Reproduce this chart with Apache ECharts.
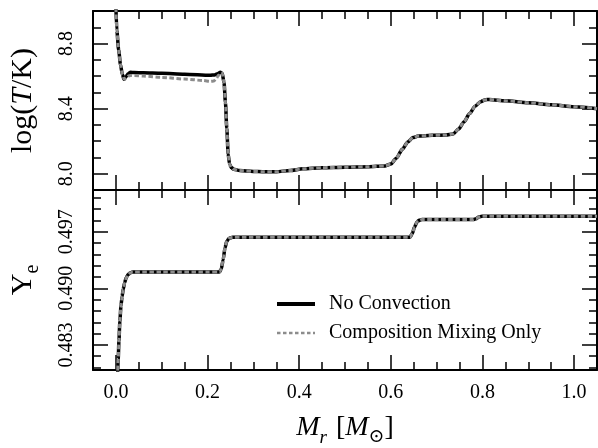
<!DOCTYPE html>
<html><head><meta charset="utf-8">
<script src="https://cdn.jsdelivr.net/npm/echarts@6/dist/echarts.min.js"></script>
<style>html,body{margin:0;padding:0;background:#fff}#c{width:598px;height:448px}</style>
</head><body><div id="c"></div>
<script>
// ---- data ----
const massT = [0.000,0.002,0.006,0.010,0.014,0.018,0.022,0.027,0.032,0.040,0.060,0.100,0.150,0.206,0.215,0.222,0.228,0.232,0.236,0.239,0.242,0.245,0.248,0.252,0.257,0.270,0.300,0.320,0.350,0.380,0.408,0.450,0.500,0.550,0.588,0.600,0.612,0.625,0.637,0.648,0.660,0.690,0.720,0.736,0.748,0.760,0.772,0.784,0.796,0.807,0.815,0.850,0.900,0.950,1.000,1.050];
const logTNoConv = [9.02,8.88,8.76,8.67,8.61,8.580,8.596,8.615,8.623,8.622,8.620,8.617,8.612,8.605,8.607,8.615,8.623,8.618,8.560,8.440,8.280,8.120,8.060,8.038,8.028,8.020,8.014,8.012,8.012,8.020,8.030,8.037,8.040,8.043,8.048,8.060,8.095,8.150,8.195,8.222,8.232,8.236,8.238,8.244,8.275,8.320,8.370,8.415,8.443,8.455,8.456,8.448,8.436,8.424,8.412,8.400];
const massTMix = [0.000,0.002,0.006,0.010,0.014,0.018,0.022,0.027,0.032,0.040,0.060,0.100,0.150,0.190,0.206,0.214,0.219,0.224,0.228,0.232,0.236,0.239,0.242,0.245,0.248,0.252,0.257,0.270,0.300,0.320,0.350,0.380,0.408,0.450,0.500,0.550,0.588,0.600,0.612,0.625,0.637,0.648,0.660,0.690,0.720,0.736,0.748,0.760,0.772,0.784,0.796,0.807,0.815,0.850,0.900,0.950,1.000,1.050];
const logTMix = [9.02,8.88,8.76,8.67,8.61,8.580,8.590,8.600,8.604,8.603,8.600,8.592,8.582,8.573,8.568,8.570,8.585,8.605,8.620,8.618,8.560,8.440,8.280,8.120,8.060,8.038,8.028,8.020,8.014,8.012,8.012,8.020,8.030,8.037,8.040,8.043,8.048,8.060,8.095,8.150,8.195,8.222,8.232,8.236,8.238,8.244,8.275,8.320,8.370,8.415,8.443,8.455,8.456,8.448,8.436,8.424,8.412,8.400];
const massYe = [0.0035,0.0050,0.0066,0.0086,0.0110,0.0135,0.0160,0.0190,0.0225,0.0265,0.0310,0.0360,0.1000,0.2000,0.2260,0.2300,0.2340,0.2380,0.2420,0.2470,0.2550,0.4000,0.6420,0.6470,0.6520,0.6570,0.6620,0.6680,0.7000,0.7800,0.7860,0.7920,0.7990,0.8100,1.0500];
const yeNoConv = [0.4790,0.4812,0.4835,0.4859,0.4878,0.4890,0.4899,0.4907,0.4913,0.4917,0.4919,0.4920,0.4920,0.4920,0.4920,0.4924,0.4935,0.4950,0.4958,0.4962,0.4963,0.4963,0.4963,0.4968,0.4976,0.4982,0.4984,0.4985,0.4985,0.4985,0.4986,0.4988,0.4989,0.4989,0.4989];
const yeMix = [0.4790,0.4812,0.4835,0.4859,0.4878,0.4890,0.4899,0.4907,0.4913,0.4917,0.4919,0.4920,0.4920,0.4920,0.4920,0.4924,0.4935,0.4950,0.4958,0.4962,0.4963,0.4963,0.4963,0.4968,0.4976,0.4982,0.4984,0.4985,0.4985,0.4985,0.4986,0.4988,0.4989,0.4989,0.4989];

const xMajorTicks = [0.0,0.2,0.4,0.6,0.8,1.0];
const xTickLabels = ['0.0','0.2','0.4','0.6','0.8','1.0'];
const xMinorTicks = [0.05,0.1,0.15,0.25,0.3,0.35,0.45,0.5,0.55,0.65,0.7,0.75,0.85,0.9,0.95];
const tMajorTicks = [8.0,8.4,8.8];
const tTickLabels = ['8.0','8.4','8.8'];
const tMinorTicks = [8.1,8.2,8.3,8.5,8.6,8.7,8.9];
const yeMajorTicks = [0.483,0.490,0.497];
const yeTickLabels = ['0.483','0.490','0.497'];
const yeMinorTicks = [0.4802,0.4816,0.4844,0.4858,0.4872,0.4886,0.4914,0.4928,0.4942,0.4956,0.4984,0.4998,0.5012];

const X_MIN = -0.05, X_MAX = 1.05;
const T_MIN = 7.9, T_MAX = 9.0;
const YE_MIN = 0.4799, YE_MAX = 0.50215;

// ---- styling ----
const FONT = "'Liberation Serif','DejaVu Serif',serif";
const SPINE = {show:true, onZero:false, lineStyle:{color:'#000', width:2}};
const NOLINE = {show:false, onZero:false};
function lbl(vals, labels){
  return function(v){
    for (let i=0;i<vals.length;i++) if (Math.abs(vals[i]-v)<1e-9) return labels[i];
    return '';
  };
}
function xAx(grid, pos, major, withLabel){
  const a = {
    type:'value', gridIndex:grid, position:pos, min:X_MIN, max:X_MAX,
    axisLine: major ? SPINE : NOLINE,
    splitLine:{show:false},
    axisTick:{show:true, inside:true, length: major?15:8, customValues: major?xMajorTicks:xMinorTicks, lineStyle:{color:'#000', width:1.5}},
    axisLabel:{show:false}
  };
  if (withLabel){
    a.axisLabel = {show:true, customValues:xMajorTicks, formatter:lbl(xMajorTicks,xTickLabels), fontFamily:FONT, fontSize:20, color:'#000', margin:13};
    a.name = '{i|M}{si|r}{n| [}{i|M}{s|\u2299}{n|]}';
    a.nameLocation = 'middle';
    a.nameGap = 44;
    a.nameTextStyle = {fontFamily:FONT, fontSize:28, color:'#000', rich:{
      i:{fontFamily:FONT, fontSize:28, fontStyle:'italic', lineHeight:30, verticalAlign:'top'},
      n:{fontFamily:FONT, fontSize:28, lineHeight:30, verticalAlign:'top'},
      si:{fontFamily:FONT, fontSize:19, fontStyle:'italic', lineHeight:19, padding:[14,2,0,0], verticalAlign:'top'},
      s:{fontFamily:FONT, fontSize:19, lineHeight:19, padding:[14,0,0,0], verticalAlign:'top'}
    }};
  }
  return a;
}
function yAx(grid, pos, major, min, max, majVals, minVals, labels, name, rich, gap){
  const a = {
    type:'value', gridIndex:grid, position:pos, min:min, max:max,
    axisLine: major ? SPINE : NOLINE,
    splitLine:{show:false},
    axisTick:{show:true, inside:true, length: major?15:8, customValues: major?majVals:minVals, lineStyle:{color:'#000', width:1.5}},
    axisLabel:{show:false}
  };
  if (labels){
    a.axisLabel = {show:true, customValues:majVals, formatter:lbl(majVals,labels), rotate:90, fontFamily:FONT, fontSize:20, color:'#000', margin:16};
    a.name = name; a.nameLocation='middle'; a.nameGap=gap; a.nameRotate=90;
    a.nameTextStyle = {fontFamily:FONT, fontSize:30, color:'#000', rich:rich};
  }
  return a;
}
const richT = {
  n:{fontFamily:FONT, fontSize:30, lineHeight:32, verticalAlign:'top'},
  i:{fontFamily:FONT, fontSize:30, fontStyle:'italic', lineHeight:32, verticalAlign:'top'}
};
const richYe = {
  n:{fontFamily:FONT, fontSize:30, lineHeight:32, verticalAlign:'top'},
  s:{fontFamily:FONT, fontSize:20, lineHeight:20, padding:[15,0,0,0], verticalAlign:'top'}
};

const BLACK = {color:'#000', width:3.5, type:'solid'};
const GREY = {color:'#8c8c8c', width:3, type:[4.5,2.5]};
function pairs(xs, ys){ return xs.map((x,i)=>[x, ys[i]]); }
function ser(name, xi, yi, xs, ys, ls){
  return {name:name, type:'line', xAxisIndex:xi, yAxisIndex:yi, data:pairs(xs,ys), showSymbol:false, symbol:'none',
    smooth:0.25, smoothMonotone:'x', lineStyle:ls, itemStyle:{color:ls.color}, clip:true, silent:true};
}

const chart = echarts.init(document.getElementById('c'), null, {renderer:'canvas'});
chart.setOption({
  animation:false,
  backgroundColor:'#fff',
  grid:[
    {left:88, right:1, top:11, height:179},
    {left:88, right:1, top:190, height:180}
  ],
  xAxis:[
    xAx(0,'bottom',true,false), xAx(0,'bottom',false,false),
    xAx(0,'top',true,false), xAx(0,'top',false,false),
    xAx(1,'bottom',true,true), xAx(1,'bottom',false,false),
    xAx(1,'top',true,false), xAx(1,'top',false,false)
  ],
  yAxis:[
    yAx(0,'left',true,T_MIN,T_MAX,tMajorTicks,tMinorTicks,tTickLabels,'{n|log(}{i|T}{n|/K)}',richT,53),
    yAx(0,'left',false,T_MIN,T_MAX,tMajorTicks,tMinorTicks),
    yAx(0,'right',true,T_MIN,T_MAX,tMajorTicks,tMinorTicks),
    yAx(0,'right',false,T_MIN,T_MAX,tMajorTicks,tMinorTicks),
    yAx(1,'left',true,YE_MIN,YE_MAX,yeMajorTicks,yeMinorTicks,yeTickLabels,'{n|Y}{s|e}',richYe,53),
    yAx(1,'left',false,YE_MIN,YE_MAX,yeMajorTicks,yeMinorTicks),
    yAx(1,'right',true,YE_MIN,YE_MAX,yeMajorTicks,yeMinorTicks),
    yAx(1,'right',false,YE_MIN,YE_MAX,yeMajorTicks,yeMinorTicks)
  ],
  legend:{
    orient:'vertical', left:275, top:294, itemWidth:38, itemHeight:14, itemGap:9, padding:0,
    itemStyle:{opacity:0},
    textStyle:{fontFamily:FONT, fontSize:20, color:'#000', padding:[0,0,0,9]},
    data:[
      {name:'No Convection', lineStyle:{width:4, color:'#000', type:'solid'}},
      {name:'Composition Mixing Only', lineStyle:{width:2.5, color:'#8c8c8c', type:[3.5,2.5]}}
    ]
  },
  series:[
    ser('No Convection',0,0,massT,logTNoConv,BLACK),
    ser('Composition Mixing Only',0,0,massTMix,logTMix,GREY),
    ser('No Convection',4,4,massYe,yeNoConv,BLACK),
    ser('Composition Mixing Only',4,4,massYe,yeMix,GREY)
  ]
});
</script>
</body></html>
